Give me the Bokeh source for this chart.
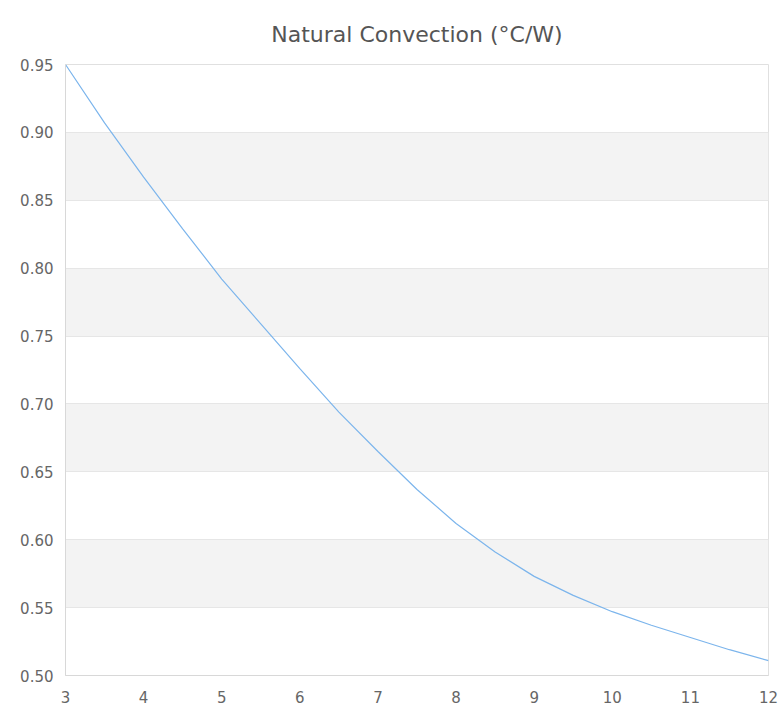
from bokeh.plotting import figure
from bokeh.models import FixedTicker, Range1d, NumeralTickFormatter
from bokeh.embed import file_html
from bokeh.resources import INLINE

x_vals = [3, 3.5, 4, 4.5, 5, 5.5, 6, 6.5, 7, 7.5, 8, 8.5, 9, 9.5, 10, 10.5, 11, 11.5, 12]
y_vals = [0.950, 0.907, 0.867, 0.829, 0.792, 0.759, 0.726, 0.694, 0.665, 0.637, 0.612,
          0.591, 0.573, 0.559, 0.547, 0.537, 0.528, 0.519, 0.511]
x_ticks = [3, 4, 5, 6, 7, 8, 9, 10, 11, 12]
y_ticks = [0.50, 0.55, 0.60, 0.65, 0.70, 0.75, 0.80, 0.85, 0.90, 0.95]
title_text = "Natural Convection (°C/W)"

p = figure(width=779, height=708, output_backend="svg", toolbar_location=None,
           x_range=Range1d(3, 12), y_range=Range1d(0.50, 0.95),
           title=title_text, min_border_left=65, min_border_right=11,
           min_border_top=64, min_border_bottom=33)

p.title.align = "center"
p.title.text_font = "DejaVu Sans"
p.title.text_font_size = "22px"
p.title.text_font_style = "normal"
p.title.text_color = "#555555"
p.title.standoff = 36

p.line(x_vals, y_vals, line_color="#7cb5ec", line_width=1.2)

p.xaxis.ticker = FixedTicker(ticks=x_ticks)
p.yaxis.ticker = FixedTicker(ticks=y_ticks)
p.yaxis.formatter = NumeralTickFormatter(format="0.00")
for ax in (p.xaxis, p.yaxis):
    ax.axis_line_color = "#d8d8d8"
    ax.major_tick_line_color = None
    ax.minor_tick_line_color = None
    ax.major_tick_out = 0
    ax.major_tick_in = 0
    ax.minor_tick_out = 0
    ax.major_label_text_font = "DejaVu Sans"
    ax.major_label_text_font_size = "15px"
    ax.major_label_text_color = "#666666"
p.xaxis.major_label_standoff = 15
p.yaxis.major_label_standoff = 12

p.xgrid.grid_line_color = None
p.ygrid.grid_line_color = "#e6e6e6"
p.ygrid.band_fill_color = "#f3f3f3"
p.ygrid.band_fill_alpha = 1.0
p.outline_line_color = "#e0e0e0"
p.background_fill_color = "white"
p.border_fill_color = "white"

open("out.html", "w").write(file_html(p, INLINE))
